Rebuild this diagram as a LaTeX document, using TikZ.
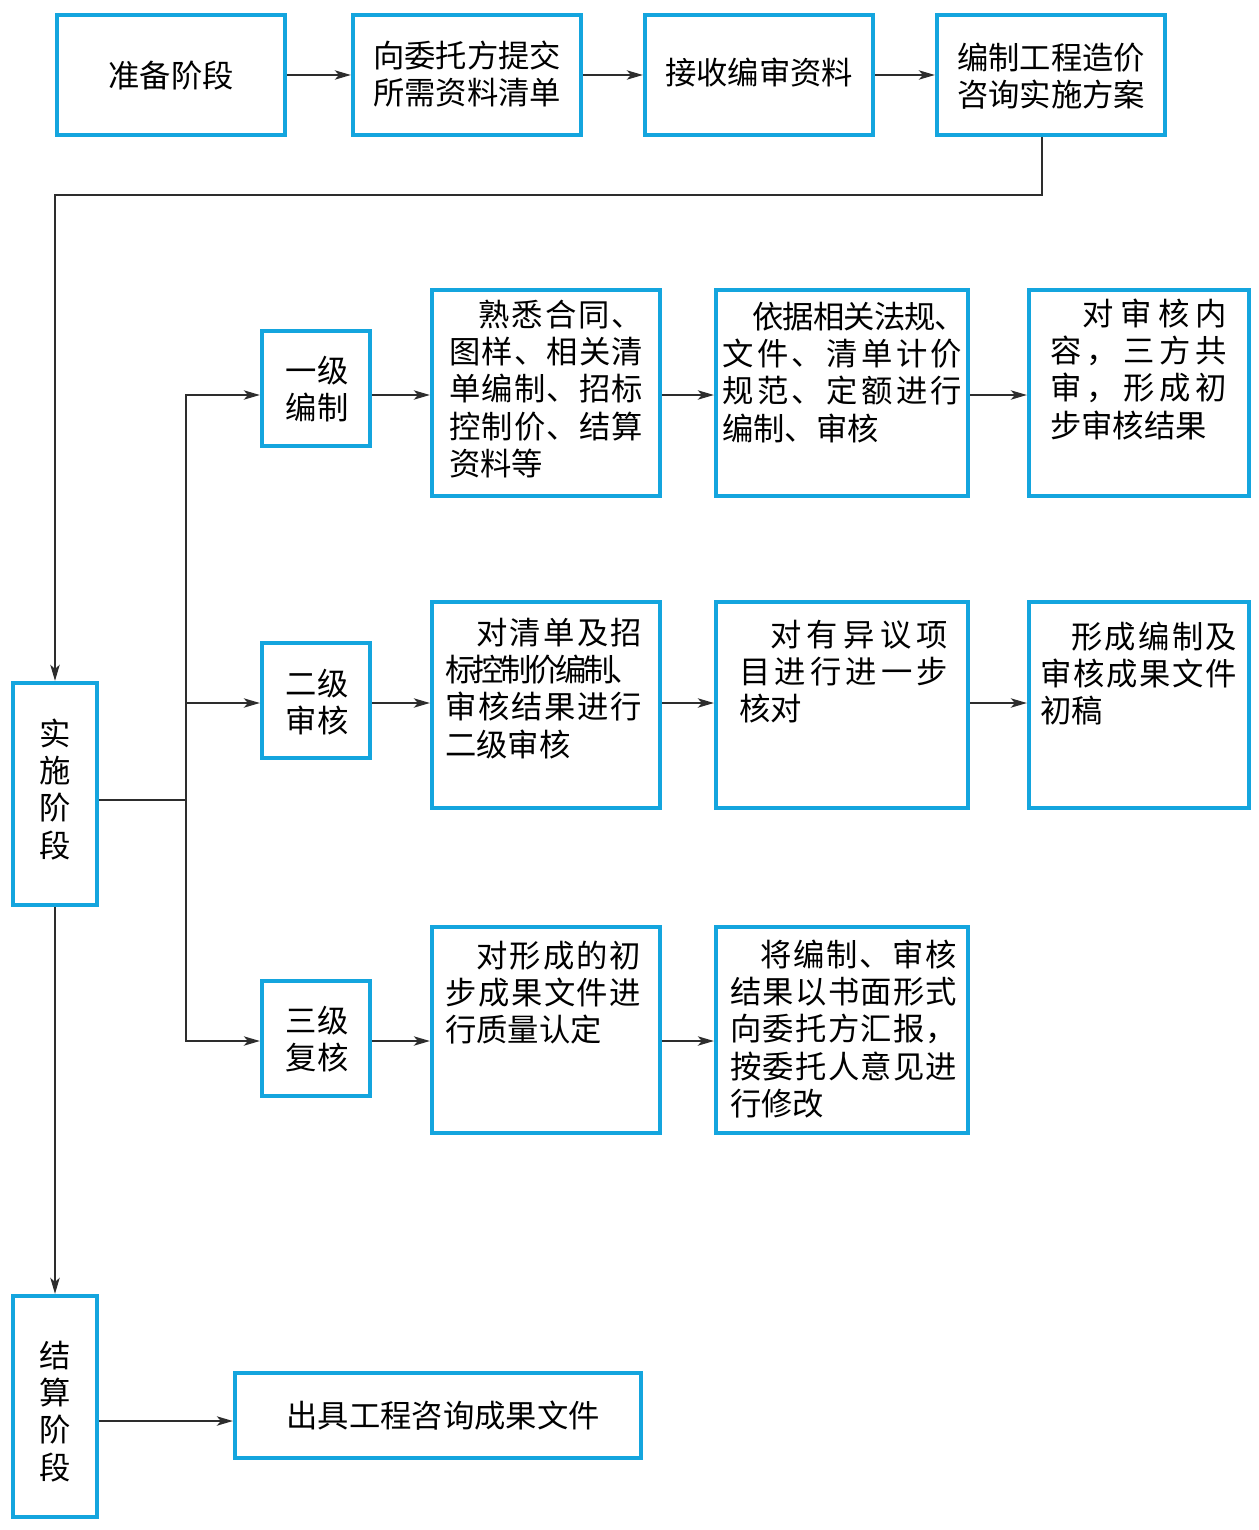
\documentclass[tikz,border=0pt]{standalone}
\usepackage{fontspec}
\setmainfont{Noto Sans CJK SC}
\usetikzlibrary{arrows.meta,fit,calc}
\definecolor{boxblue}{RGB}{20,165,222}
\definecolor{linegray}{RGB}{45,45,45}
\newcommand\fs{\fontsize{23.5}{28}\selectfont}
\newcommand\ind[1]{\hspace*{\dimexpr0.75pt*#1\relax}}
\newcommand\strt{\rule[-0.14em]{0pt}{1.04em}}
\ExplSyntaxOn
\NewDocumentCommand\jl{mm}{%
  \makebox[\dimexpr0.75pt*#1\relax][s]{
    \bool_set_true:N \l_tmpa_bool
    \tl_map_inline:nn {#2}{
      \bool_if:NF \l_tmpa_bool {\hskip~0pt~plus~1fil~minus~0.3em\relax}
      \bool_set_false:N \l_tmpa_bool
      ##1}}}
\ExplSyntaxOff
\tikzset{
  box/.style={draw=boxblue, line width=3.2pt, inner sep=0pt},
  txt/.style={inner sep=0pt, align=left, anchor=north west, font=\fs},
  ctxt/.style={inner sep=0pt, align=center, anchor=north, font=\fs},
  arr/.style={draw=linegray, line width=1.3pt, -{Stealth[length=12pt,width=7pt,inset=3pt]}},
  ln/.style={draw=linegray, line width=1.3pt},
}
\begin{document}
\begin{tikzpicture}[x=0.75pt,y=-0.75pt]
\useasboundingbox (0,0) rectangle (1258,1530);
% top row
\node[box, fit={(57,15)(285,135)}] (a1) {};
\node[box, fit={(353,15)(581,135)}] (a2) {};
\node[box, fit={(645,15)(873,135)}] (a3) {};
\node[box, fit={(937,15)(1165,135)}] (a4) {};
\node[ctxt] (a1t) at (171,58.7) {\strt{}准备阶段};
\node[ctxt] (a2t) at (467,38.7) {\strt{}向委托方提交\\所需资料清单};
\node[ctxt] (a3t) at (759,55.7) {\strt{}接收编审资料};
\node[ctxt] (a4t) at (1051,40.7) {\strt{}编制工程造价\\咨询实施方案};
% stages
\node[box, fit={(13,683)(97,905)}] (impl) {};
\node[box, fit={(13,1296)(97,1517)}] (settle) {};
\node[box, fit={(235,1373)(641,1458)}] (out) {};
\node[ctxt] (implt) at (55,716.7) {\strt{}实\\施\\阶\\段};
\node[ctxt] (settlet) at (55,1338.7) {\strt{}结\\算\\阶\\段};
\node[ctxt] (outt) at (443,1398.7) {\strt{}出具工程咨询成果文件};
% levels
\node[box, fit={(262,331)(370,446)}] (l1) {};
\node[box, fit={(262,643)(370,758)}] (l2) {};
\node[box, fit={(262,981)(370,1096)}] (l3) {};
\node[ctxt] (l1t) at (317,353.7) {\strt{}一级\\编制};
\node[ctxt] (l2t) at (317,666.7) {\strt{}二级\\审核};
\node[ctxt] (l3t) at (317,1003.7) {\strt{}三级\\复核};
% body boxes
\node[box, fit={(432,290)(660,496)}] (b12) {};
\node[box, fit={(716,290)(968,496)}] (b13) {};
\node[box, fit={(1029,290)(1249,496)}] (b14) {};
\node[box, fit={(432,602)(660,808)}] (b22) {};
\node[box, fit={(716,602)(968,808)}] (b23) {};
\node[box, fit={(1029,602)(1249,808)}] (b24) {};
\node[box, fit={(432,927)(660,1133)}] (b32) {};
\node[box, fit={(716,927)(968,1133)}] (b33) {};
% body texts
\node[txt] (t12) at (449,297.7) {\ind{29}\jl{165}{熟悉合同、}\strt{}\\\jl{194}{图样、相关清}\\\jl{194}{单编制、招标}\\\jl{194}{控制价、结算}\\资料等};
\node[txt] (t13) at (722,299.7) {\ind{30}\jl{214}{依据相关法规、}\strt{}\\\jl{240}{文件、清单计价}\\\jl{240}{规范、定额进行}\\编制、审核};
\node[txt] (t14) at (1050,296.7) {\ind{32}\jl{145}{对审核内}\strt{}\\\jl{177}{容，三方共}\\\jl{177}{审，形成初}\\步审核结果};
\node[txt] (t22) at (445,615.7) {\ind{31}\jl{166}{对清单及招}\strt{}\\\jl{197}{标控制价编制、}\\\jl{197}{审核结果进行}\\二级审核};
\node[txt] (t23) at (739,617.7) {\ind{31}\jl{178}{对有异议项}\strt{}\\\jl{209}{目进行进一步}\\核对};
\node[txt] (t24) at (1040,619.7) {\ind{31}\jl{166}{形成编制及}\strt{}\\\jl{197}{审核成果文件}\\初稿};
\node[txt] (t32) at (445,938.7) {\ind{31}\jl{165}{对形成的初}\strt{}\\\jl{196}{步成果文件进}\\行质量认定};
\node[txt] (t33) at (730,937.7) {\ind{30}\jl{197}{将编制、审核}\strt{}\\\jl{227}{结果以书面形式}\\\jl{227}{向委托方汇报，}\\\jl{227}{按委托人意见进}\\行修改};
% coordinates
\coordinate (k1) at (1042,195);
\coordinate (bus) at (186,800);
\coordinate (r1) at (186,395);
\coordinate (r2) at (186,703);
\coordinate (r3) at (186,1041);
\coordinate (r4) at (97,1421);
% connectors
\draw[arr] (a1) -- (a2);
\draw[arr] (a2) -- (a3);
\draw[arr] (a3) -- (a4);
\draw[arr] (a4.south -| k1) -- (k1) -| (impl.north);
\draw[ln] (impl.east |- bus) -- (bus);
\draw[arr] (bus) |- (l1.west |- r1);
\draw[arr] (bus) |- (l2.west |- r2);
\draw[arr] (bus) |- (l3.west |- r3);
\draw[arr] (l1.east |- r1) -- (b12.west |- r1);
\draw[arr] (b12.east |- r1) -- (b13.west |- r1);
\draw[arr] (b13.east |- r1) -- (b14.west |- r1);
\draw[arr] (l2.east |- r2) -- (b22.west |- r2);
\draw[arr] (b22.east |- r2) -- (b23.west |- r2);
\draw[arr] (b23.east |- r2) -- (b24.west |- r2);
\draw[arr] (l3.east |- r3) -- (b32.west |- r3);
\draw[arr] (b32.east |- r3) -- (b33.west |- r3);
\draw[arr] (impl.south) -- (settle.north);
\draw[arr] (settle.east |- r4) -- (out.west |- r4);
\end{tikzpicture}
\end{document}
